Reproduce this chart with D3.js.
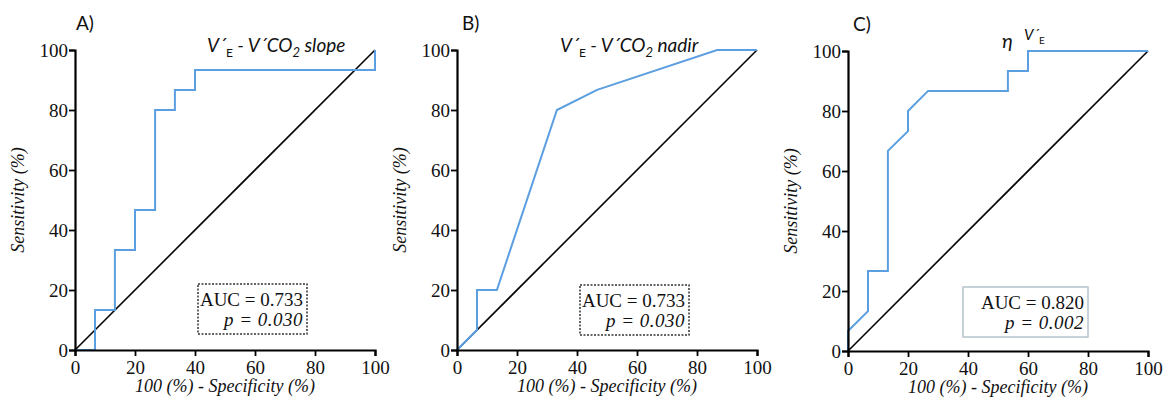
<!DOCTYPE html>
<html>
<head>
<meta charset="utf-8">
<script src="https://cdn.jsdelivr.net/npm/d3@7"></script>
<style>
  body { margin: 0; background: #fff; }
  svg text { fill: #111; }
</style>
</head>
<body>
<div id="chart"></div>
<script>
// ROC curves, x = 100 - specificity (%), y = sensitivity (%)
var ticks = [0, 20, 40, 60, 80, 100];
var panelLabels = ["A)", "B)", "C)"];
var aucLabels = ["AUC = 0.733", "AUC = 0.733", "AUC = 0.820"];
var pLabels = ["p = 0.030", "p = 0.030", "p = 0.002"];

var slopeX = [0, 6.67, 6.67, 13.3, 13.3, 20, 20, 26.7, 26.7, 33.3, 33.3, 40, 40, 100, 100];
var slopeY = [0, 0, 13.3, 13.3, 33.3, 33.3, 46.7, 46.7, 80, 80, 86.7, 86.7, 93.3, 93.3, 100];

var nadirX = [0, 6.67, 6.67, 13.3, 33.3, 46.7, 86.7, 100];
var nadirY = [0, 6.67, 20, 20, 80, 86.7, 100, 100];

var etaX = [0, 0, 6.67, 6.67, 13.3, 13.3, 20, 20, 26.7, 53.3, 53.3, 60, 60, 100];
var etaY = [0, 6.67, 13.3, 26.7, 26.7, 66.7, 73.3, 80, 86.7, 86.7, 93.3, 93.3, 100, 100];

var svg = d3.select("#chart")
    .append("svg")
    .attr("width", 1168)
    .attr("height", 403);

var panels = [
    { left: 75, top: 50, xs: slopeX, ys: slopeY, box: [198, 284, 109, 50], dotted: true },
    { left: 457, top: 50, xs: nadirX, ys: nadirY, box: [580, 285, 109, 50], dotted: true },
    { left: 848, top: 51, xs: etaX, ys: etaY, box: [963, 287, 125, 50], dotted: false }
];

var w = 300, h = 300;
var serif = "'Liberation Serif', 'Times New Roman', serif";
var sans = "Lato, 'Open Sans', sans-serif";

panels.forEach(function (p, i) {
    var g = svg.append("g").attr("transform", "translate(" + p.left + "," + p.top + ")");

    var x = d3.scaleLinear().domain([0, 100]).range([0, w]);
    var y = d3.scaleLinear().domain([0, 100]).range([h, 0]);

    // diagonal reference line
    g.append("line")
        .attr("x1", x(0)).attr("y1", y(0))
        .attr("x2", x(100)).attr("y2", y(100))
        .attr("stroke", "#000")
        .attr("stroke-width", 1.6);

    // ROC curve
    var pts = p.xs.map(function (v, k) { return [v, p.ys[k]]; });
    var line = d3.line()
        .x(function (d) { return x(d[0]); })
        .y(function (d) { return y(d[1]); });
    g.append("path")
        .attr("d", line(pts))
        .attr("fill", "none")
        .attr("stroke", "#5b9fe0")
        .attr("stroke-width", 2);

    // axes
    var xAxis = g.append("g")
        .attr("transform", "translate(0," + h + ")")
        .call(d3.axisBottom(x).tickValues(ticks).tickSize(6).tickPadding(4));
    var yAxis = g.append("g")
        .call(d3.axisLeft(y).tickValues(ticks).tickSize(6).tickPadding(1));
    [xAxis, yAxis].forEach(function (a) {
        a.attr("font-family", serif).attr("font-size", 19);
        a.select(".domain").attr("stroke", "#000").attr("stroke-width", 2.2);
        a.selectAll(".tick line").attr("stroke", "#000").attr("stroke-width", 1.8);
        a.selectAll("text")
            .style("font-family", serif)
            .style("font-size", "19px")
            .attr("fill", "#111");
    });
    xAxis.selectAll("text").attr("dy", "0.75em");
    yAxis.selectAll("text").attr("dy", "0.36em");

    // axis titles
    g.append("text")
        .attr("x", w / 2)
        .attr("y", h + 42)
        .attr("text-anchor", "middle")
        .style("font-family", serif)
        .style("font-style", "italic")
        .style("font-size", "18px")
        .text("100 (%) - Specificity (%)");

    g.append("text")
        .attr("transform", "translate(-51," + (h / 2) + ") rotate(-90)")
        .attr("text-anchor", "middle")
        .style("font-family", serif)
        .style("font-style", "italic")
        .style("font-size", "18px")
        .text("Sensitivity (%)");

    // panel label
    g.append("text")
        .attr("x", i === 0 ? 1 : 5)
        .attr("y", -20)
        .style("font-family", sans)
        .style("font-size", "19px")
        .text(panelLabels[i]);

    // AUC box
    var bx = p.box[0] - p.left, by = p.box[1] - p.top;
    g.append("rect")
        .attr("x", bx).attr("y", by)
        .attr("width", p.box[2]).attr("height", p.box[3])
        .attr("fill", "#fff")
        .attr("stroke", p.dotted ? "#333" : "#b5c3cc")
        .attr("stroke-width", 1.5)
        .attr("stroke-dasharray", p.dotted ? "2,1.5" : null);
    g.append("text")
        .attr("x", bx + p.box[2] - 4)
        .attr("y", by + 22)
        .attr("text-anchor", "end")
        .style("font-family", serif)
        .style("font-size", "19px")
        .text(aucLabels[i]);
    g.append("text")
        .attr("x", bx + p.box[2] - 4)
        .attr("y", by + 42)
        .attr("text-anchor", "end")
        .style("font-family", serif)
        .style("font-style", "italic")
        .style("font-size", "19px")
        .style("letter-spacing", "0.5px")
        .text(pLabels[i]);
});

// curve titles
function veTitle(x0, y0, rest) {
    var t = svg.append("text")
        .attr("x", x0).attr("y", y0)
        .style("font-family", sans)
        .style("font-style", "italic")
        .style("font-size", "19px");
    t.append("tspan").text("V\u00b4");
    t.append("tspan").attr("dy", 5).style("font-size", "12px").style("font-style", "normal").text("E");
    t.append("tspan").attr("dy", -5).text(" - V\u00b4CO");
    t.append("tspan").attr("dy", 5).style("font-size", "13px").text("2");
    t.append("tspan").attr("dy", -5).text(" " + rest);
}
veTitle(207, 52, "slope");
veTitle(560, 52, "nadir");

var eta = svg.append("text")
    .attr("x", 1002).attr("y", 48)
    .style("font-family", sans)
    .style("font-style", "italic")
    .style("font-size", "20px")
    .text("\u03b7");
var ve = svg.append("text")
    .attr("x", 1024).attr("y", 40)
    .style("font-family", sans)
    .style("font-style", "italic")
    .style("font-size", "15px");
ve.append("tspan").text("V\u00b4");
ve.append("tspan").attr("dy", 4).style("font-size", "10px").style("font-style", "normal").text("E");
</script>
</body>
</html>
